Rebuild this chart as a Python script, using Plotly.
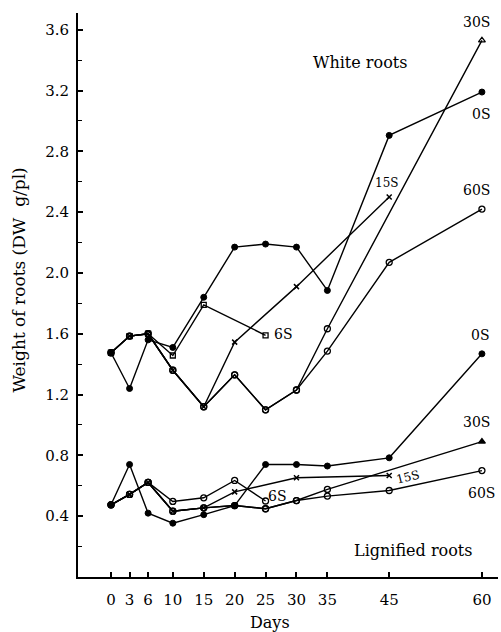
import plotly.graph_objects as go

# ---------------- data ----------------
x_tick_days = [0, 3, 6, 10, 15, 20, 25, 30, 35, 45, 60]
y_tick_vals = [0.4, 0.8, 1.2, 1.6, 2.0, 2.4, 2.8, 3.2, 3.6]
y_tick_text = ["0.4", "0.8", "1.2", "1.6", "2.0", "2.4", "2.8", "3.2", "3.6"]

# White roots
white_0S_days = [0, 3, 6, 10, 15, 20, 25, 30, 35, 45, 60]
white_0S = [1.475, 1.24, 1.56, 1.51, 1.84, 2.17, 2.19, 2.17, 1.885, 2.905, 3.19]
white_6S_days = [0, 3, 6, 10, 15, 25]
white_6S = [1.475, 1.585, 1.60, 1.457, 1.79, 1.59]
white_15S_days = [0, 3, 6, 10, 15, 20, 30, 45]
white_15S = [1.475, 1.585, 1.60, 1.36, 1.12, 1.545, 1.91, 2.5]
white_30S_days = [0, 3, 6, 10, 15, 20, 25, 30, 35, 60]
white_30S = [1.475, 1.585, 1.60, 1.36, 1.12, 1.33, 1.10, 1.23, 1.633, 3.53]
white_60S_days = [0, 3, 6, 10, 15, 20, 25, 30, 35, 45, 60]
white_60S = [1.475, 1.585, 1.60, 1.36, 1.12, 1.33, 1.10, 1.23, 1.486, 2.07, 2.42]

# Lignified roots
lig_0S_days = [0, 3, 6, 10, 15, 20, 25, 30, 35, 45, 60]
lig_0S = [0.475, 0.74, 0.42, 0.354, 0.41, 0.47, 0.74, 0.74, 0.73, 0.784, 1.468]
lig_6S_days = [0, 3, 6, 10, 15, 20, 25]
lig_6S = [0.475, 0.543, 0.622, 0.497, 0.521, 0.635, 0.50]
lig_15S_days = [0, 3, 6, 10, 15, 20, 30, 45]
lig_15S = [0.475, 0.543, 0.622, 0.433, 0.455, 0.56, 0.653, 0.668]
lig_30S_days = [0, 3, 6, 10, 15, 20, 25, 30, 35, 60]
lig_30S = [0.475, 0.543, 0.622, 0.433, 0.455, 0.47, 0.449, 0.503, 0.576, 0.891]
lig_60S_days = [0, 3, 6, 10, 15, 20, 25, 30, 35, 45, 60]
lig_60S = [0.475, 0.543, 0.622, 0.433, 0.455, 0.47, 0.449, 0.503, 0.532, 0.569, 0.70]

# ---------------- figure ----------------
FONT = "DejaVu Serif"
LINE = dict(color="black", width=1.4)

def filled():
    return dict(symbol="circle", size=6, color="black", line=dict(color="black", width=1))

def opencirc(n=None, last=None):
    sym = "circle-open"
    if n is not None and last is not None:
        sym = ["circle-open"] * (n - 1) + [last]
    return dict(symbol=sym, size=6, color="black", line=dict(color="black", width=1.3))

def xmark():
    return dict(symbol="x-thin", size=5, color="black", line=dict(color="black", width=1.5))

def squareopen():
    return dict(symbol="square-open", size=5, color="black", line=dict(color="black", width=1.3))

fig = go.Figure()

series = [
    (white_0S_days, white_0S, filled()),
    (white_6S_days, white_6S, squareopen()),
    (white_15S_days, white_15S, xmark()),
    (white_30S_days, white_30S, opencirc(len(white_30S), "triangle-up-open")),
    (white_60S_days, white_60S, opencirc()),
    (lig_0S_days, lig_0S, filled()),
    (lig_6S_days, lig_6S, opencirc()),
    (lig_15S_days, lig_15S, xmark()),
    (lig_30S_days, lig_30S, opencirc(len(lig_30S), "triangle-up")),
    (lig_60S_days, lig_60S, opencirc()),
]
for xs, ys, mk in series:
    fig.add_trace(go.Scatter(x=xs, y=ys, mode="lines+markers", line=LINE,
                             marker=mk, showlegend=False, cliponaxis=False))

labels = [
    ("White roots", 40.3, 3.385, 16, 0),
    ("30S", 59.2, 3.65, 14, 0),
    ("0S", 59.9, 3.047, 14, 0),
    ("60S", 59.2, 2.543, 14, 0),
    ("15S", 44.6, 2.589, 12, 0),
    ("6S", 27.9, 1.60, 14, 0),
    ("0S", 59.7, 1.589, 14, 0),
    ("30S", 59.2, 1.018, 14, 0),
    ("60S", 60.0, 0.551, 14, 0),
    ("15S", 48.1, 0.66, 12, -14),
    ("6S", 26.9, 0.53, 14, 0),
    ("Lignified roots", 48.9, 0.174, 16, 0),
]
for txt, x, y, sz, ang in labels:
    fig.add_annotation(text=txt, x=x, y=y, xref="x", yref="y", showarrow=False,
                       textangle=ang, font=dict(family=FONT, size=sz, color="black"))

fig.add_annotation(text="Weight of roots (DW  g/pl)", xref="paper", yref="paper",
                   x=-0.14, y=0.526, xanchor="center", yanchor="middle",
                   textangle=-90, showarrow=False,
                   font=dict(family=FONT, size=17, color="black"))
fig.add_annotation(text="Days", xref="paper", yref="paper", x=0.457, y=-0.081,
                   xanchor="center", yanchor="middle",
                   showarrow=False, font=dict(family=FONT, size=16, color="black"))

fig.update_layout(
    width=501, height=632,
    margin=dict(l=78, r=3, t=13, b=55),
    paper_bgcolor="white", plot_bgcolor="white",
    font=dict(family=FONT, size=14, color="black"),
    xaxis=dict(range=[-5.34, 62.6], tickvals=x_tick_days,
               ticktext=[str(d) for d in x_tick_days],
               ticks="inside", ticklen=5, tickwidth=1.5, tickcolor="black",
               showline=True, linecolor="black", linewidth=1.8,
               showgrid=False, zeroline=False, ticklabelstandoff=8,
               tickfont=dict(family=FONT, size=15)),
    yaxis=dict(range=[0, 3.71], tickvals=y_tick_vals, ticktext=y_tick_text,
               ticks="inside", ticklen=5, tickwidth=1.5, tickcolor="black",
               showline=True, linecolor="black", linewidth=1.8,
               showgrid=False, zeroline=False, ticklabelstandoff=4,
               minor=dict(dtick=0.2, tick0=0, ticks="inside", ticklen=4,
                          tickcolor="black", tickwidth=1.2, showgrid=False),
               tickfont=dict(family=FONT, size=15)),
)

fig.write_html("out.html")
